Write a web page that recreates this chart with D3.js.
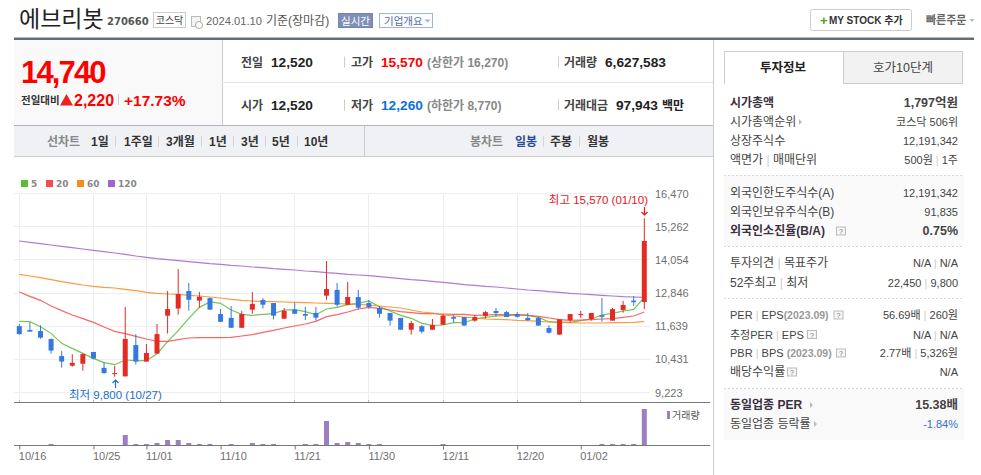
<!doctype html>
<html>
<head>
<meta charset="utf-8">
<title>에브리봇</title>
<script src="https://cdn.jsdelivr.net/npm/d3@7"></script>
<style>
html, body { margin: 0; padding: 0; background: #fff; overflow: hidden; }
svg { display: block; }
text { font-family: "Liberation Sans", "Noto Sans CJK KR", sans-serif; }
.axis text { font-size: 11px; fill: #6f6f6f; }
.axis line { stroke: #777; }
</style>
</head>
<body>
<svg id="page" width="981" height="475"></svg>
<script>
// daily candles, 2023.10.16 - 2024.01.10
var dates = ["10/16","10/17","10/18","10/19","10/20","10/23","10/24","10/25","10/26","10/27","10/30","10/31",
  "11/01","11/02","11/03","11/06","11/07","11/08","11/09","11/10","11/13","11/14","11/15","11/16","11/17","11/20",
  "11/21","11/22","11/23","11/24","11/27","11/28","11/29","11/30","12/01","12/04","12/05","12/06","12/07","12/08",
  "12/11","12/12","12/13","12/14","12/15","12/18","12/19","12/20","12/21","12/22","12/26","12/27","12/28",
  "01/02","01/03","01/04","01/05","01/08","01/09","01/10"];
var opens = [11640,11500,11460,11170,10550,10200,10270,10700,10120,9910,9810,10950,10350,10640,12020,12280,12920,12570,12660,12080,
  11940,11580,12240,12590,12480,11910,12240,12080,12120,12750,12960,12420,12700,12480,12300,12120,11940,11510,11640,11510,
  11690,11970,11970,11840,12010,12190,12150,12080,11940,11940,11570,11330,11860,12040,11900,12040,11840,12230,12570,12520];
var highs = [11720,11780,11670,11190,10730,10620,10650,10700,10330,10190,12340,11350,10990,11720,12920,13720,13210,12880,12680,12260,
  12370,12190,12880,12660,12480,12300,12480,12340,12340,14010,13210,13250,12960,12590,12370,12120,11940,11830,11680,11900,
  12080,12040,11970,12040,12190,12300,12190,12150,12120,11970,11680,11890,12080,12190,12120,12660,12300,12560,12740,15570];
var lows = [11330,11440,11180,10640,10130,10160,10020,10430,9910,9800,9810,10240,10350,10640,11370,12060,12200,12310,12240,11790,
  11580,11580,12090,12280,11880,11910,12090,11860,11840,12600,12350,12410,12240,12280,11950,11660,11510,11330,11370,11510,
  11690,11770,11660,11800,11910,11980,11970,11950,11830,11660,11370,11330,11770,11940,11840,11800,11840,12130,12370,12260];
var closes = [11350,11440,11220,10750,10350,10300,10620,10460,9930,9930,11170,10350,10660,11350,12260,12810,12600,12710,12240,11800,
  11580,12080,12450,12420,12020,12200,12090,12020,11950,12990,12420,12700,12310,12340,12090,11840,11510,11750,11440,11680,
  12020,11910,11660,11970,12150,12120,11970,11980,11860,11660,11400,11890,12080,12080,12120,11980,12260,12410,12510,14740];
var ma5 = [11814,11802,11620,11377,11013,10831,10649,10467,10309,10236,10406,10382,10382,10637,11074,11475,11924,12324,12519,12470,
  12227,12069,12033,12069,12094,12227,12240,12166,12057,12264,12324,12421,12470,12555,12349,12191,12033,11924,11742,11669,
  11681,11766,11766,11899,11960,12009,12021,12057,12033,11960,11802,11778,11778,11839,11899,12045,12106,12191,12251,12689];
var ma20 = [12883,12725,12579,12373,12203,12045,11912,11778,11608,11450,11365,11268,11171,11086,11086,11147,11207,11220,11220,11220,
  11232,11280,11329,11414,11487,11572,11644,11717,11814,11984,12057,12154,12264,12324,12288,12227,12166,12130,12094,12094,
  12082,12069,12069,12033,12045,12057,12057,12057,12033,11997,11936,11875,11851,11863,11875,11899,11912,11960,12009,12154];
var ma60 = [13526,13465,13405,13332,13259,13198,13138,13089,13053,13028,12980,12931,12871,12834,12810,12798,12761,12737,12701,12664,
  12616,12579,12555,12543,12531,12519,12506,12494,12482,12470,12458,12446,12434,12409,12373,12336,12300,12227,12154,12118,
  12045,12009,11972,11936,11899,11887,11875,11851,11839,11814,11790,11778,11766,11754,11754,11754,11766,11766,11778,11814];
var ma120 = [14740,14692,14643,14594,14546,14497,14449,14400,14352,14303,14255,14194,14145,14097,14060,14024,13987,13951,13915,13890,
  13854,13830,13793,13769,13733,13708,13684,13648,13623,13587,13563,13526,13502,13478,13441,13405,13368,13332,13308,13271,
  13235,13198,13150,13126,13089,13065,13028,12992,12956,12931,12895,12871,12834,12810,12786,12761,12737,12713,12701,12689];
var volumes = [40000,40000,50000,190000,70000,40000,80000,60000,50000,70000,1840000,200000,190000,380000,920000,930000,390000,200000,190000,90000,
  190000,80000,380000,190000,190000,60000,70000,190000,190000,4420000,380000,560000,380000,190000,190000,80000,70000,60000,50000,60000,
  190000,50000,40000,50000,40000,60000,50000,40000,40000,50000,60000,70000,50000,60000,80000,190000,190000,190000,190000,6627583];
var priceTicks = [16470,15262,14054,12846,11639,10431,9223];
var dateTicks = ["10/16","10/25","11/01","11/10","11/21","11/30","12/11","12/20","01/02"];
var maNames = ["5","20","60","120"];
var maColors = ["#5dbb3a","#f44c4c","#fb8a1e","#a163cf"];
var maSeries = [ma5, ma20, ma60, ma120];

var RED = "#e32b24", BLUE = "#3478e0";

var svg = d3.select("#page");

function label(x, y, str, size, color, weight, anchor) {
  return svg.append("text").attr("x", x).attr("y", y).text(str)
    .attr("font-size", size).attr("fill", color || "#333")
    .attr("font-weight", weight || "normal").attr("text-anchor", anchor || "start");
}
function box(x, y, w, h, fill, stroke) {
  return svg.append("rect").attr("x", x).attr("y", y).attr("width", w).attr("height", h)
    .attr("fill", fill || "none").attr("stroke", stroke || "none");
}
function rule(x1, y1, x2, y2, color, dash) {
  return svg.append("line").attr("x1", x1).attr("y1", y1).attr("x2", x2).attr("y2", y2)
    .attr("stroke", color).attr("stroke-dasharray", dash || null);
}
// text with pale " | " separators and a grey (2023.09) part
function richLabel(x, y, str, size, color, weight, anchor) {
  var t = label(x, y, "", size, color, weight, anchor);
  str.split(/( \| |\(2023\.09\))/).forEach(function(part) {
    if (!part) return;
    var s = t.append("tspan");
    if (part === " | ") s.text(" | ").attr("fill", "#ccc");
    else if (part.charAt(0) === "(") s.text(part).attr("fill", "#999").attr("font-weight", "bold").attr("font-size", size - 0.5);
    else s.text(part);
  });
  return t;
}

// ---- header
label(19, 27, "에브리봇", 23, "#222");
svg.append("text").attr("x", 107).attr("y", 25).text("270660").attr("font-size", 10).attr("font-weight", "bold")
  .attr("fill", "#555").style("font-family", "DejaVu Sans");
box(153.5, 12.5, 32, 15, "#fff", "#ccc");
label(169.5, 24, "코스닥", 10, "#444", null, "middle");
box(191.5, 16.5, 9, 10, "#f4f4f4", "#bbb");
svg.append("circle").attr("cx", 199).attr("cy", 25).attr("r", 3.5).attr("fill", "#fff").attr("stroke", "#aaa");
label(206, 24.5, "2024.01.10", 11.2, "#666");
label(266, 24.5, "기준(장마감)", 12, "#555");
box(338.5, 13.5, 34, 14, "#7f8fb8", "#7484ae");
label(355.5, 24.5, "실시간", 10.5, "#fff", null, "middle");
box(379.5, 13.5, 53, 14, "#fbfcff", "#a6b4d4");
label(384, 24.5, "기업개요", 10.5, "#5a6d9a");
svg.append("path").attr("d", "M424.5 19.5h6l-3 3z").attr("fill", "#a6b4d4");
box(810.5, 9.5, 101, 21, "#fff", "#ccc").attr("rx", 2);
label(820, 24.5, "+", 13, "#4aa516", "bold");
label(829, 24, "MY STOCK 추가", 10, "#333", "bold");
label(926, 24, "빠른주문", 11, "#666", "bold");
svg.append("path").attr("d", "M969.5 19h5l-2.5 3z").attr("fill", "#bbb");
box(14, 37.5, 960, 2.5, "#666d75");

// ---- price summary
box(14, 40, 208, 85, "#f9f9fa");
rule(222.5, 40, 222.5, 125, "#ccc");
rule(222, 82.5, 713, 82.5, "#e5e5e5");
rule(14, 125.5, 713, 125.5, "#b4b4bc");
label(21, 83, "14,740", 31, "#f00", "bold").attr("letter-spacing", -1.85);
label(21, 104, "전일대비", 10.5, "#333", "bold");
svg.append("path").attr("d", "M60 105.5L66.5 94L73 105.5z").attr("fill", "#f02020");
label(74, 105.5, "2,220", 16, "#f00", "bold");
rule(118.5, 94, 118.5, 105, "#ccc");
label(124, 105.5, "+17.73%", 15.5, "#f00", "bold");

[[61.5, "전일", "12,520", "고가", "15,570", "#f00", "(상한가 16,270)", "거래량"],
 [104.5, "시가", "12,520", "저가", "12,260", "#0f6fe0", "(하한가 8,770)", "거래대금"]].forEach(function(r) {
  var base = r[0] + 5;
  label(241, base, r[1], 12, "#444", "bold");
  label(271, base, r[2], 13.7, "#222", "bold");
  rule(344.5, r[0] - 5, 344.5, r[0] + 6, "#ccc");
  label(351, base, r[3], 12, "#444", "bold");
  label(381, base, r[4], 13.7, r[5], "bold");
  label(427, base, r[6], 12, "#888", "bold");
  rule(558.5, r[0] - 5, 558.5, r[0] + 6, "#ccc");
  label(564, base, r[7], 12, "#444", "bold");
});
label(605, 66.5, "6,627,583", 13.7, "#222", "bold");
label(616, 109.5, "97,943", 13.7, "#222", "bold");
label(662, 109.5, "백만", 12, "#222", "bold");

// ---- chart period toolbar
box(14, 126, 699, 30, "#eff1f5");
rule(14, 156.5, 713, 156.5, "#ccc");
rule(364.5, 126, 364.5, 156, "#ccc");
label(47, 145.5, "선차트", 12, "#888", "bold");
label(470, 145.5, "봉차트", 12, "#888", "bold");
[[91, "1일"], [124, "1주일"], [166, "3개월"], [209, "1년"], [241, "3년"], [272, "5년"], [304, "10년"], [550, "주봉"], [587, "월봉"]]
  .forEach(function(t) { label(t[0], 145.5, t[1], 12, "#333", "bold"); });
label(515, 145.5, "일봉", 12, "#2b4b9b", "bold");
[115.5, 158.5, 201.5, 233.5, 265.5, 297.5, 543.5, 579.5].forEach(function(x) { rule(x, 136, x, 147, "#d5d5d5"); });

// ---- chart
var x = d3.scalePoint().domain(dates).range([19.3, 644.3]);
var y = d3.scaleLinear().domain([9223, 16470]).range([392.5, 193.5]);
var yVol = d3.scaleLinear().domain([0, 6627583]).range([445, 409]);
var bar = 5;

// legend
maNames.forEach(function(name, i) {
  var lx = [21, 46, 77, 108][i];
  box(lx, 180, 7, 7, maColors[i]);
  svg.append("text").attr("x", lx + 10).attr("y", 187).text(name).attr("font-size", 9).attr("font-weight", "bold")
    .attr("fill", "#888").style("font-family", "DejaVu Sans");
});

// grid
svg.append("g").selectAll("line").data(priceTicks).join("line")
  .attr("x1", 14).attr("x2", 650)
  .attr("y1", function(d) { return Math.floor(y(d)) + .5; })
  .attr("y2", function(d) { return Math.floor(y(d)) + .5; })
  .attr("stroke", "#eeeeee");
svg.append("g").selectAll("line").data(dateTicks).join("line")
  .attr("x1", function(d) { return Math.floor(x(d)) + .5; })
  .attr("x2", function(d) { return Math.floor(x(d)) + .5; })
  .attr("y1", 193).attr("y2", 402)
  .attr("stroke", "#eeeeee");

// moving averages
var line = d3.line().x(function(d, i) { return x(dates[i]); }).y(function(d) { return y(d); });
maSeries.forEach(function(s, i) {
  svg.append("path").attr("d", line(s)).attr("fill", "none")
    .attr("stroke", maColors[i]).attr("stroke-width", 1.2).attr("stroke-opacity", .85);
});

// candles
var idx = d3.range(dates.length);
function candleColor(i) { return closes[i] >= opens[i] ? RED : BLUE; }
var candle = svg.append("g").selectAll("g").data(idx).join("g");
candle.append("line")
  .attr("x1", function(i) { return x(dates[i]); }).attr("x2", function(i) { return x(dates[i]); })
  .attr("y1", function(i) { return y(highs[i]); }).attr("y2", function(i) { return y(lows[i]); })
  .attr("stroke", candleColor);
candle.append("rect")
  .attr("x", function(i) { return x(dates[i]) - bar / 2; })
  .attr("width", bar)
  .attr("y", function(i) { return y(Math.max(opens[i], closes[i])); })
  .attr("height", function(i) { return Math.max(1, Math.abs(y(opens[i]) - y(closes[i]))); })
  .attr("fill", candleColor);

// price axis
var yAxis = d3.axisRight(y).tickValues(priceTicks).tickSize(0).tickPadding(5).tickFormat(d3.format(","));
svg.append("g").attr("class", "axis").attr("transform", "translate(650,0)").call(yAxis)
  .call(function(g) { g.select(".domain").remove(); });

// high / low marks
label(648, 204, "최고 15,570 (01/10)", 11.5, "#e8141c", null, "end");
svg.append("path").attr("d", "M644.5 207v8M641.5 212l3 3 3-3").attr("fill", "none").attr("stroke", "#e8141c").attr("stroke-width", 1.2);
label(69, 399, "최저 9,800 (10/27)", 11.5, "#1a6fc9");
svg.append("path").attr("d", "M115.5 388v-8M112.5 383l3-3 3 3").attr("fill", "none").attr("stroke", "#1a6fc9").attr("stroke-width", 1.2);

// panel divider
rule(14, 402.5, 710, 402.5, "#777");
svg.append("g").selectAll("line").data(dateTicks).join("line")
  .attr("x1", function(d) { return Math.floor(x(d)) + .5; })
  .attr("x2", function(d) { return Math.floor(x(d)) + .5; })
  .attr("y1", 400).attr("y2", 402).attr("stroke", "#bbb");

// volume
svg.append("g").selectAll("rect").data(idx).join("rect")
  .attr("x", function(i) { return x(dates[i]) - bar / 2; })
  .attr("width", bar)
  .attr("y", function(i) { return Math.round(yVol(volumes[i])); })
  .attr("height", function(i) { return 445 - Math.round(yVol(volumes[i])); })
  .attr("fill", "#9a80c2");
box(667, 411, 3, 8, "#9a80c2");
label(672, 418.5, "거래량", 10, "#555");

// date axis
var xAxis = d3.axisBottom(x).tickValues(dateTicks).tickSize(4).tickPadding(3);
svg.append("g").attr("class", "axis").attr("transform", "translate(0,445.5)").call(xAxis)
  .call(function(g) {
    g.select(".domain").attr("d", "M14 0H710").attr("stroke", "#777");
    g.selectAll("text").attr("text-anchor", "start").attr("x", -1);
    g.selectAll("line").attr("stroke", "#999");
  });

// ---- side panel
rule(713.5, 40, 713.5, 475, "#ccc");
svg.append("path").attr("d", "M724.5 84V51.5H843").attr("fill", "none").attr("stroke", "#ccc");
box(843.5, 51.5, 119, 32, "#f2f2f2", "#ccc");
label(783, 71.5, "투자정보", 12.5, "#222", "bold", "middle");
label(903, 71.5, "호가10단계", 12.5, "#444", null, "middle");

box(724, 175, 240, 71, "#fafafa");
box(724, 389, 240, 51, "#f9f9f9");
[175.5, 246.5, 298.5, 388.5].forEach(function(yy) { rule(724, yy, 964, yy, "#d8d8d8", "2,2"); });

var sideLabels = ["시가총액","시가총액순위","상장주식수","액면가 | 매매단위","외국인한도주식수(A)","외국인보유주식수(B)","외국인소진율(B/A)",
  "투자의견 | 목표주가","52주최고 | 최저","PER | EPS(2023.09)","추정PER | EPS","PBR | BPS (2023.09)","배당수익률","동일업종 PER","동일업종 등락률"];
var sideValues = ["1,797억원","코스닥 506위","12,191,342","500원 | 1주","12,191,342","91,835","0.75%",
  "N/A | N/A","22,450 | 9,800","56.69배 | 260원","N/A | N/A","2.77배 | 5,326원","N/A","15.38배","-1.84%"];
var sideRows = [107, 126, 145, 164, 197, 216, 235, 267, 287, 319, 338.5, 357, 376, 409, 428];
var sideBold = [0, 6, 13];

sideLabels.forEach(function(str, i) {
  var b = sideBold.indexOf(i) >= 0;
  var latin = i >= 9 && i <= 11;
  richLabel(730, sideRows[i], str, latin ? 11 : 12, b ? "#3a3040" : "#444", b ? "bold" : null);
  richLabel(958, sideRows[i], sideValues[i], b ? 12.5 : 11, i === 14 ? "#3a6fc9" : "#444", b ? "bold" : null, "end");
});

// small help boxes and arrows
[[841, 231], [838.5, 315], [812, 334.5], [841, 353], [792, 372]].forEach(function(p) {
  box(p[0] - 5 + .5, p[1] - 4.5 + .5, 9, 8, "#f6f6f6", "#bbb");
  label(p[0], p[1] + 3, "?", 7, "#777", null, "middle");
});
[[799, 122], [810, 405], [814, 424]].forEach(function(p) {
  svg.append("path").attr("d", "M" + p[0] + " " + (p[1] - 3) + "l3 3l-3 3z").attr("fill", "#bbb");
});
</script>
</body>
</html>
